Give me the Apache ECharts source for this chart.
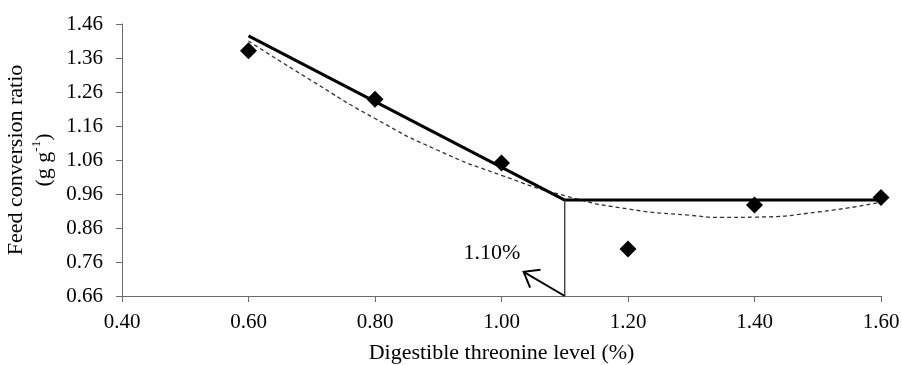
<!DOCTYPE html>
<html>
<head>
<meta charset="utf-8">
<script src="https://cdn.jsdelivr.net/npm/echarts@6/dist/echarts.min.js"></script>
<style>
  html, body { margin: 0; padding: 0; background: #fff; }
  #chart { width: 902px; height: 365px; }
</style>
</head>
<body>
<div id="chart"></div>
<script>
// observed means
var levels = [0.60, 0.80, 1.00, 1.20, 1.40, 1.60];
var fcr = [1.381, 1.239, 1.051, 0.798, 0.928, 0.950];

// broken-line fit (plateau from 1.10)
var brokenX = [0.60, 1.10, 1.60];
var brokenY = [1.425, 0.942, 0.942];

// quadratic fit
var quadX = [0.60, 0.70, 0.80, 0.90, 1.00, 1.10, 1.20, 1.30, 1.35, 1.40, 1.50, 1.60];
var quadY = [1.410, 1.293, 1.182, 1.088, 1.015, 0.955, 0.916, 0.897, 0.891, 0.892, 0.907, 0.936];

// breakpoint marker and annotation
var breakLine = [[1.10, 0.66], [1.10, 0.945]];
var arrowTail = [1.10, 0.66];
var arrowTip = [1.035, 0.731];
var labelAt = [0.985, 0.786];
var breakLabel = '1.10%';

var font = 'Liberation Serif';

function pairs(xs, ys) {
  return xs.map(function (x, i) { return [x, ys[i]]; });
}

var chart = echarts.init(document.getElementById('chart'));

var option = {
  animation: false,
  grid: { left: 122, right: 21, top: 24, bottom: 69, containLabel: false, outerBoundsMode: 'none' },
  xAxis: {
    type: 'value',
    min: 0.4, max: 1.6, interval: 0.2,
    name: 'Digestible threonine level (%)',
    nameLocation: 'middle',
    nameGap: 46,
    nameTextStyle: { fontFamily: font, fontSize: 22, color: '#000' },
    axisLine: { lineStyle: { color: '#6b6b6b', width: 1 } },
    axisTick: { show: true, length: 6, lineStyle: { color: '#6b6b6b' } },
    axisLabel: { fontFamily: font, fontSize: 21, color: '#000', margin: 16,
      formatter: function (v) { return v.toFixed(2); } },
    splitLine: { show: false }
  },
  yAxis: {
    type: 'value',
    min: 0.66, max: 1.46, interval: 0.1,
    name: '{n|Feed conversion ratio}\n{n|(g g}{s|-1}{n|)}',
    nameLocation: 'middle',
    nameGap: 62,
    nameRotate: 90,
    nameTextStyle: {
      color: '#000',
      rich: {
        n: { fontFamily: font, fontSize: 22, color: '#000', lineHeight: 28 },
        s: { fontFamily: font, fontSize: 13, color: '#000', verticalAlign: 'top', lineHeight: 28, padding: [0, 0, 10, 0] }
      }
    },
    axisLine: { show: true, lineStyle: { color: '#6b6b6b', width: 1 } },
    axisTick: { show: true, length: 6, lineStyle: { color: '#6b6b6b' } },
    axisLabel: { fontFamily: font, fontSize: 21, color: '#000', margin: 19,
      formatter: function (v) { return v.toFixed(2); } },
    splitLine: { show: false }
  },
  series: [
    {
      type: 'line',
      data: pairs(quadX, quadY),
      smooth: 0.6,
      symbol: 'none',
      lineStyle: { color: '#333', width: 1.3, type: [4, 3] },
      z: 2
    },
    {
      type: 'line',
      data: pairs(brokenX, brokenY),
      symbol: 'none',
      lineStyle: { color: '#000', width: 3 },
      z: 3
    },
    {
      type: 'line',
      data: breakLine,
      symbol: 'none',
      lineStyle: { color: '#222', width: 1.2 },
      z: 3
    },
    {
      type: 'scatter',
      data: pairs(levels, fcr),
      symbol: 'diamond',
      symbolSize: [17, 17],
      itemStyle: { color: '#000', opacity: 1 },
      z: 4
    },
    {
      type: 'custom',
      data: [[arrowTail[0], arrowTail[1], arrowTip[0], arrowTip[1], labelAt[0], labelAt[1]]],
      renderItem: function (params, api) {
        var tail = api.coord([api.value(0), api.value(1)]);
        var tip = api.coord([api.value(2), api.value(3)]);
        var lab = api.coord([api.value(4), api.value(5)]);
        var ang = Math.atan2(tail[1] - tip[1], tail[0] - tip[0]);
        var len = 17, spread = 0.65;
        var w1 = [tip[0] + len * Math.cos(ang - spread), tip[1] + len * Math.sin(ang - spread)];
        var w2 = [tip[0] + len * Math.cos(ang + spread), tip[1] + len * Math.sin(ang + spread)];
        var st = { stroke: '#000', lineWidth: 2, fill: null };
        return {
          type: 'group',
          children: [
            { type: 'line', shape: { x1: tail[0], y1: tail[1], x2: tip[0], y2: tip[1] }, style: st },
            { type: 'polyline', shape: { points: [w1, tip, w2] }, style: st },
            { type: 'text', x: lab[0], y: lab[1],
              style: { text: breakLabel, fontFamily: font, fontSize: 22, fill: '#000',
                       align: 'center', verticalAlign: 'middle' } }
          ]
        };
      },
      z: 5
    }
  ]
};

chart.setOption(option);
</script>
</body>
</html>
